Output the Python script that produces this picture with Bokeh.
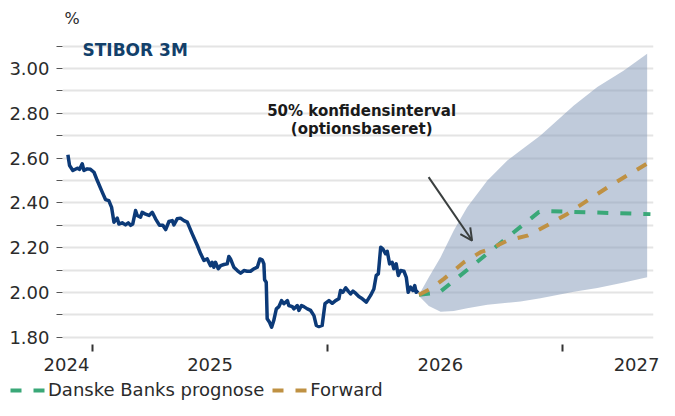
from bokeh.plotting import figure
from bokeh.layouts import column
from bokeh.models import (FixedTicker, CustomJSTickFormatter, LinearAxis, Range1d, Label,
                          Arrow, OpenHead, Legend, LegendItem, Grid)
from bokeh.embed import file_html
from bokeh.resources import INLINE

# ---- data (x in fractional years) ----
hist_x = [2024.395, 2024.402, 2024.416, 2024.435, 2024.445, 2024.456, 2024.463, 2024.477, 2024.491,
          2024.506, 2024.520, 2024.541, 2024.555, 2024.569, 2024.581, 2024.591, 2024.605, 2024.612,
          2024.626, 2024.640, 2024.652, 2024.662, 2024.671, 2024.683, 2024.690, 2024.704, 2024.711,
          2024.723, 2024.740, 2024.754, 2024.768, 2024.785, 2024.799, 2024.811, 2024.825, 2024.839,
          2024.846, 2024.860, 2024.874, 2024.889, 2024.903, 2024.924, 2024.946, 2024.960, 2024.974,
          2024.988, 2025.002, 2025.009, 2025.016, 2025.023, 2025.035, 2025.045, 2025.059, 2025.073,
          2025.080, 2025.087, 2025.101, 2025.116, 2025.130, 2025.144, 2025.158, 2025.172, 2025.186,
          2025.201, 2025.212, 2025.222, 2025.229, 2025.232, 2025.239, 2025.243, 2025.253, 2025.262,
          2025.271, 2025.282, 2025.293, 2025.304, 2025.314, 2025.329, 2025.335, 2025.350, 2025.357,
          2025.371, 2025.378, 2025.389, 2025.399, 2025.414, 2025.428, 2025.442, 2025.452, 2025.463,
          2025.477, 2025.489, 2025.506, 2025.520, 2025.534, 2025.548, 2025.555, 2025.565, 2025.577,
          2025.588, 2025.598, 2025.608, 2025.619, 2025.633, 2025.648, 2025.665, 2025.683, 2025.697,
          2025.707, 2025.716, 2025.726, 2025.735, 2025.747, 2025.754, 2025.764, 2025.775, 2025.782,
          2025.792, 2025.801, 2025.811, 2025.825, 2025.835, 2025.843, 2025.853, 2025.863, 2025.871,
          2025.877, 2025.886]
hist_y = [2.615, 2.567, 2.545, 2.555, 2.550, 2.575, 2.545, 2.552, 2.550,
          2.537, 2.500, 2.448, 2.415, 2.410, 2.380, 2.314, 2.332, 2.306,
          2.311, 2.302, 2.311, 2.300, 2.306, 2.366, 2.344, 2.336, 2.358,
          2.351, 2.344, 2.358, 2.329, 2.300, 2.300, 2.281, 2.317, 2.321,
          2.302, 2.329, 2.332, 2.321, 2.314, 2.262, 2.210, 2.173, 2.143,
          2.150, 2.120, 2.135, 2.113, 2.135, 2.106, 2.120, 2.125, 2.128,
          2.161, 2.150, 2.113, 2.098, 2.086, 2.098, 2.095, 2.095, 2.106,
          2.113, 2.150, 2.146, 2.128, 2.057, 2.046, 1.883, 1.867, 1.845,
          1.875, 1.927, 1.937, 1.964, 1.950, 1.964, 1.942, 1.937, 1.927,
          1.942, 1.920, 1.942, 1.937, 1.927, 1.920, 1.897, 1.853, 1.848,
          1.853, 1.950, 1.964, 1.952, 1.964, 1.972, 2.009, 2.001, 2.021,
          2.006, 1.994, 2.006, 1.997, 1.982, 1.972, 1.957, 1.987, 2.016,
          2.076, 2.083, 2.202, 2.195, 2.173, 2.184, 2.128, 2.135, 2.106,
          2.128, 2.076, 2.098, 2.095, 2.068, 2.001, 2.024, 2.009, 2.031,
          2.001, 2.009]

danske_x = [2025.889, 2025.975, 2026.400, 2026.440, 2026.874]
danske_y = [1.990, 2.000, 2.360, 2.363, 2.350]

forward_x = [2025.889, 2025.938, 2025.995, 2026.080, 2026.151, 2026.194, 2026.265, 2026.350,
             2026.435, 2026.520, 2026.605, 2026.704, 2026.867]
forward_y = [1.990, 2.016, 2.061, 2.135, 2.180, 2.195, 2.232, 2.254,
             2.300, 2.351, 2.410, 2.478, 2.580]

band_x = [2025.889, 2025.931, 2025.981, 2026.037, 2026.094, 2026.180, 2026.265, 2026.321,
          2026.406, 2026.548, 2026.648, 2026.761, 2026.860]
band_hi = [1.990, 2.068, 2.158, 2.277, 2.381, 2.500, 2.589, 2.634,
           2.701, 2.835, 2.917, 2.991, 3.066]
band_lo = [1.985, 1.940, 1.914, 1.918, 1.930, 1.945, 1.954, 1.960,
           1.975, 2.003, 2.020, 2.045, 2.068]

y_ticks = [1.8, 1.9, 2.0, 2.1, 2.2, 2.3, 2.4, 2.5, 2.6, 2.7, 2.8, 2.9, 3.0, 3.1]
x_tick_marks = [2024.5, 2025.5, 2026.5]
x_label_pos = [2024.389, 2025.0, 2025.98, 2026.815]
series_names = ["Danske Banks prognose", "Forward"]

FONT = "DejaVu Sans"
TXT = "#2b2b2b"
GREEN = "#3aa878"
GOLD = "#bf9143"
DASH = "11 12"

p = figure(width=659, height=380, output_backend="svg", toolbar_location=None,
           x_range=Range1d(2024.372, 2026.887), y_range=Range1d(1.768, 3.259),
           x_axis_location=None, y_axis_location=None,
           min_border_left=62, min_border_right=6, min_border_top=10, min_border_bottom=36)
p.outline_line_color = None
p.xgrid.visible = False
p.ygrid.visible = False

yticker = FixedTicker(ticks=y_ticks)
yaxis = LinearAxis(ticker=yticker,
                   formatter=CustomJSTickFormatter(code="const k = Math.round(tick*10); return (k % 2 == 0) ? tick.toFixed(2) : '';"))
yaxis.axis_line_color = None
yaxis.major_tick_in = 0
yaxis.major_tick_out = 6
yaxis.major_tick_line_color = "#555555"
yaxis.minor_tick_line_color = None
yaxis.major_label_standoff = 7
yaxis.major_label_text_font = FONT
yaxis.major_label_text_font_size = "18px"
yaxis.major_label_text_color = TXT
p.add_layout(yaxis, "left")

p.add_layout(Grid(dimension=1, ticker=yticker, grid_line_color="#e4e4e4", grid_line_width=2))

xa = LinearAxis(ticker=FixedTicker(ticks=x_tick_marks))
xa.axis_line_color = None
xa.major_tick_in = 0
xa.major_tick_out = 7
xa.major_tick_line_width = 2
xa.major_tick_line_color = "#333333"
xa.minor_tick_line_color = None
xa.major_label_text_alpha = 0
xa.major_label_text_font_size = "1px"
xa.major_label_standoff = 0
p.add_layout(xa, "below")

xb = LinearAxis(ticker=FixedTicker(ticks=x_label_pos),
                formatter=CustomJSTickFormatter(code="return String(Math.floor(tick + 0.5));"))
xb.axis_line_color = None
xb.major_tick_in = 0
xb.major_tick_out = 0
xb.major_tick_line_color = None
xb.minor_tick_line_color = None
xb.major_label_standoff = 6
xb.major_label_text_font = FONT
xb.major_label_text_font_size = "18px"
xb.major_label_text_color = TXT
p.add_layout(xb, "below")

p.varea(x=band_x, y1=band_lo, y2=band_hi, fill_color="#8197b8", fill_alpha=0.5)
p.line(hist_x, hist_y, line_color="#0c3a78", line_width=3.5, line_join="round")
p.line(danske_x, danske_y, line_color=GREEN, line_width=4, line_dash=DASH)
p.line(forward_x, forward_y, line_color=GOLD, line_width=4, line_dash=DASH)

p.add_layout(Label(x=2024.381, y=3.183, text="%", text_font=FONT, text_font_size="16px",
                   text_color=TXT))
p.add_layout(Label(x=2024.457, y=3.036, text="STIBOR 3M", text_font=FONT, text_font_size="17px",
                   text_font_style="bold", text_color="#12406a"))
p.add_layout(Label(x=2025.645, y=2.768, text="50% konfidensinterval", text_font=FONT,
                   text_font_size="15px", text_font_style="bold", text_color="#1a1a1a",
                   text_align="center"))
p.add_layout(Label(x=2025.645, y=2.692, text="(optionsbaseret)", text_font=FONT,
                   text_font_size="15px", text_font_style="bold", text_color="#1a1a1a",
                   text_align="center"))
p.add_layout(Arrow(end=OpenHead(size=12, line_width=2, line_color="#3a3f3f"),
                   x_start=2025.930, y_start=2.515, x_end=2026.115, y_end=2.232,
                   line_width=2, line_color="#3a3f3f"))

# ---- legend strip: a separate small figure so the legend can start left of the plot frame.
# Its key lines carry the real series but lie outside this strip's ranges, so only the legend shows.
lg = figure(width=659, height=20, output_backend="svg", toolbar_location=None,
            x_range=Range1d(0, 1), y_range=Range1d(0, 1),
            x_axis_location=None, y_axis_location=None,
            min_border_left=0, min_border_right=0, min_border_top=0, min_border_bottom=0)
lg.frame_align = False
lg.outline_line_color = None
lg.xgrid.visible = False
lg.ygrid.visible = False
g_key = lg.line(danske_x, danske_y, line_color=GREEN, line_width=4, line_dash=DASH)
f_key = lg.line(forward_x, forward_y, line_color=GOLD, line_width=4, line_dash=DASH)

legend = Legend(items=[LegendItem(label=series_names[0], renderers=[g_key]),
                       LegendItem(label=series_names[1], renderers=[f_key])],
                orientation="horizontal", location=(10, 0))
legend.label_text_font = FONT
legend.label_text_font_size = "18px"
legend.label_text_color = TXT
legend.glyph_width = 36
legend.glyph_height = 20
legend.label_height = 20
legend.label_standoff = 2
legend.spacing = 8
legend.padding = 0
legend.margin = 0
legend.border_line_color = None
legend.background_fill_alpha = 0
lg.add_layout(legend, "center")

layout = column(p, lg, spacing=0)
open("out.html", "w").write(file_html(layout, INLINE))
